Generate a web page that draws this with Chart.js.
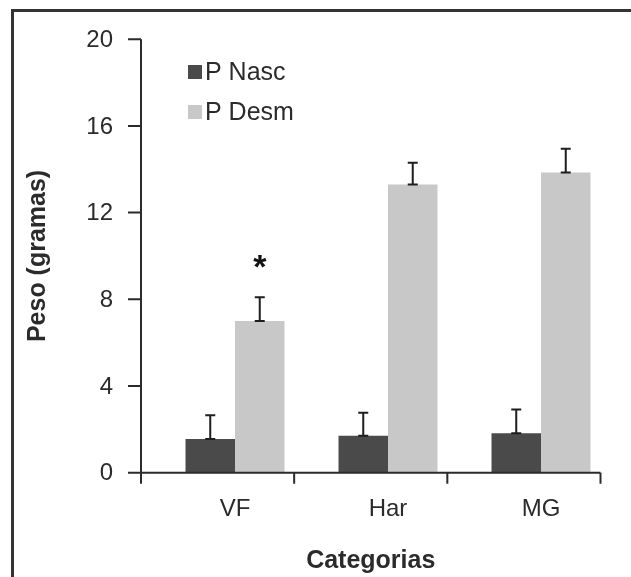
<!DOCTYPE html>
<html>
<head>
<meta charset="utf-8">
<script src="https://cdn.jsdelivr.net/npm/chart.js@4"></script>
<style>
  html, body { margin: 0; padding: 0; background: #fff; }
  canvas { display: block; }
</style>
</head>
<body>
<canvas id="myBarChart" width="631" height="577"></canvas>
<script>
// chart data
const categories = ['VF', 'Har', 'MG'];
const pNasc = [1.55, 1.7, 1.82];
const pNascErr = [1.1, 1.07, 1.1];
const pDesm = [7.0, 13.3, 13.85];
const pDesmErr = [1.1, 1.0, 1.1];
const yTicks = [0, 4, 8, 12, 16, 20];
const seriesNames = ['P Nasc', 'P Desm'];
const starred = [1, 0]; // dataset 1, category 0

const ink = '#2b2b2b';
const font = '"Liberation Sans", Arial, sans-serif';

// axes, error bars, legend, labels
const decor = {
    id: 'decor',
    afterDatasetsDraw(chart) {
        const c = chart.ctx;
        const x = chart.scales.x;
        const y = chart.scales.y;
        const area = chart.chartArea;
        const axisLeft = 141;
        const axisRight = area.right - 17;
        const y0 = y.getPixelForValue(0);

        c.save();
        // frame
        c.strokeStyle = '#333';
        c.lineWidth = 3;
        c.beginPath();
        c.moveTo(12.5, 577);
        c.lineTo(12.5, 10.5);
        c.lineTo(631, 10.5);
        c.stroke();

        // error bars
        const errs = [pNascErr, pDesmErr];
        c.strokeStyle = '#1e1e1e';
        c.lineWidth = 2;
        chart.data.datasets.forEach((ds, d) => {
            chart.getDatasetMeta(d).data.forEach((bar, i) => {
                const top = y.getPixelForValue(ds.data[i] + errs[d][i]);
                const bot = y.getPixelForValue(ds.data[i]);
                c.beginPath();
                c.moveTo(bar.x, bot);
                c.lineTo(bar.x, top);
                c.moveTo(bar.x - 5, top);
                c.lineTo(bar.x + 5, top);
                c.moveTo(bar.x - 5, bot);
                c.lineTo(bar.x + 5, bot);
                c.stroke();
            });
        });

        // axes
        c.strokeStyle = ink;
        c.lineWidth = 2;
        c.beginPath();
        c.moveTo(axisLeft, y.getPixelForValue(20));
        c.lineTo(axisLeft, y0);
        c.moveTo(axisLeft, y0);
        c.lineTo(axisRight, y0);
        yTicks.forEach((t) => {
            const py = y.getPixelForValue(t);
            c.moveTo(axisLeft - 13, py);
            c.lineTo(axisLeft, py);
        });
        for (let i = 0; i <= categories.length; i++) {
            const px = axisLeft + (axisRight - axisLeft) * i / categories.length;
            c.moveTo(px, y0);
            c.lineTo(px, y0 + 11);
        }
        c.stroke();

        // tick labels
        c.fillStyle = ink;
        c.font = '24px ' + font;
        c.textAlign = 'right';
        c.textBaseline = 'middle';
        yTicks.forEach((t) => c.fillText(String(t), 113, y.getPixelForValue(t) + 1));
        c.textAlign = 'center';
        categories.forEach((lab, i) => c.fillText(lab, x.getPixelForValue(i), 509));

        // axis titles
        c.font = 'bold 25px ' + font;
        c.fillText('Categorias', (axisLeft + axisRight) / 2, 561);
        c.save();
        c.translate(38, (y.getPixelForValue(20) + y0) / 2);
        c.rotate(-Math.PI / 2);
        c.fillText('Peso (gramas)', 0, 0);
        c.restore();

        // legend
        c.font = '25px ' + font;
        c.textAlign = 'left';
        seriesNames.forEach((name, d) => {
            const cy = 72 + d * 40;
            c.fillStyle = chart.data.datasets[d].backgroundColor;
            c.fillRect(188, cy - 7, 14, 14);
            c.fillStyle = ink;
            c.fillText(name, 205, cy + 1);
        });

        // significance mark
        const [sd, si] = starred;
        const sb = chart.getDatasetMeta(sd).data[si];
        const sy = y.getPixelForValue(chart.data.datasets[sd].data[si] + errs[sd][si]);
        c.font = 'bold 34px ' + font;
        c.textAlign = 'center';
        c.textBaseline = 'alphabetic';
        c.fillStyle = '#111';
        c.fillText('*', sb.x, sy - 19);
        c.restore();
    }
};

const ctx = document.getElementById('myBarChart').getContext('2d');
const myBarChart = new Chart(ctx, {
    type: 'bar',
    data: {
        labels: categories,
        datasets: [
            { label: seriesNames[0], data: pNasc, backgroundColor: '#4a4a4a' },
            { label: seriesNames[1], data: pDesm, backgroundColor: '#c8c8c8' }
        ]
    },
    options: {
        responsive: false,
        devicePixelRatio: 1,
        animation: false,
        layout: { padding: { left: 158.5, right: 13.5, top: 39.2, bottom: 104.3 } },
        datasets: { bar: { barPercentage: 1, categoryPercentage: 0.647 } },
        plugins: { legend: { display: false }, tooltip: { enabled: false } },
        scales: {
            x: { display: false },
            y: { display: false, min: 0, max: 20 }
        }
    },
    plugins: [decor]
});
</script>
</body>
</html>
